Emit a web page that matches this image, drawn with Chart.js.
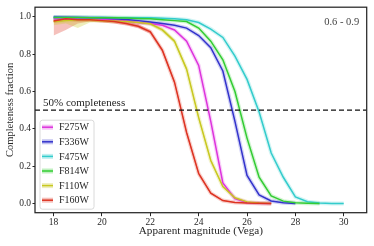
<!DOCTYPE html>
<html><head><meta charset="utf-8">
<script src="https://cdn.jsdelivr.net/npm/chart.js@4/dist/chart.umd.min.js"></script>
<style>html,body{margin:0;padding:0;background:#fff;}#wrap{width:374px;height:246px;}</style>
</head><body><div id="wrap"><canvas id="c" width="374" height="246"></canvas></div>
<script>
const mags = [18,18.5,19,19.5,20,20.5,21,21.5,22,22.5,23,23.5,24,24.5,25,25.5,26,26.5,27,27.5,28,28.5,29,29.5,30];
const filters = ['F275W','F336W','F475W','F814W','F110W','F160W'];
const F275W = [0.99,0.99,0.99,0.99,0.988,0.985,0.978,0.97,0.965,0.955,0.93,0.87,0.74,0.44,0.11,0.025,0.005,0.001,0];
const F336W = [1.0,0.998,0.997,0.995,0.994,0.99,0.986,0.98,0.972,0.965,0.955,0.94,0.9,0.835,0.71,0.44,0.15,0.045,0.013,0.003,0];
const F475W = [0.997,0.997,0.997,0.997,0.997,0.996,0.995,0.995,0.995,0.993,0.99,0.985,0.97,0.935,0.89,0.79,0.665,0.49,0.27,0.14,0.035,0.009,0.002,0.0,0];
const F814W = [0.997,0.997,0.997,0.996,0.996,0.995,0.994,0.992,0.99,0.985,0.98,0.975,0.94,0.87,0.77,0.60,0.35,0.14,0.04,0.012,0.003,0.001,0];
const F110W = [0.975,0.98,0.985,0.985,0.98,0.978,0.975,0.97,0.963,0.93,0.87,0.72,0.46,0.23,0.09,0.03,0.008,0.002,0];
const F160W = [0.978,0.99,0.985,0.985,0.98,0.975,0.965,0.95,0.92,0.82,0.65,0.38,0.16,0.055,0.015,0.005,0.002,0.001,0];
const F110W_lo = [0.955,0.965,0.94,0.97,0.972,0.97,0.968,0.963,0.955,0.92,0.86,0.71,0.45,0.22,0.085,0.027,0.006,0.001,0];
const F110W_hi = [0.985,0.99,0.99,0.99,0.987,0.985,0.982,0.977,0.97,0.94,0.88,0.73,0.47,0.24,0.095,0.033,0.01,0.003,0];
const F160W_lo = [0.90,0.93,0.965,0.975,0.97,0.965,0.955,0.94,0.91,0.81,0.64,0.37,0.15,0.05,0.012,0.003,0.001,0,0];
const F160W_hi = [0.99,0.995,0.995,0.99,0.99,0.985,0.975,0.96,0.93,0.83,0.66,0.39,0.17,0.06,0.018,0.007,0.003,0.001,0];
const xTicks = [18,20,22,24,26,28,30];
const yTicks = [0.0,0.2,0.4,0.6,0.8,1.0];
const xRange = [17.23, 30.95];
const yRange = [-0.05, 1.052];
const completenessLevel = 0.5;
const annotation = '0.6 - 0.9';

const colors = {F275W:'#dd33dd',F336W:'#3333cc',F475W:'#33cccc',F814W:'#33cc33',F110W:'#c8c820',F160W:'#dd3322'};
const series = {F275W,F336W,F475W,F814W,F110W,F160W};
const pts = arr => arr.map((v,i)=>({x:mags[i],y:v}));
function rgba(hex,a){const n=parseInt(hex.slice(1),16);return `rgba(${n>>16&255},${n>>8&255},${n&255},${a})`;}

const datasets = [];
// bands
[['F110W',F110W_lo,F110W_hi],['F160W',F160W_lo,F160W_hi]].forEach(([k,lo,hi])=>{
  datasets.push({data:pts(lo),borderWidth:0,pointRadius:0,fill:false,order:50});
  datasets.push({data:pts(hi),borderWidth:0,pointRadius:0,fill:'-1',backgroundColor:rgba(colors[k],0.3),order:50});
});
// glow underlays
filters.forEach(k=>{
  datasets.push({data:pts(series[k]),borderColor:rgba(colors[k],0.22),borderWidth:4,pointRadius:0,fill:false,order:40});
});
// lines
filters.forEach((k,i)=>{
  datasets.push({label:k,data:pts(series[k]),borderColor:colors[k],borderWidth:1.5,pointRadius:0,fill:false,order:10-i});
});
// 50% line
datasets.push({data:[{x:xRange[0],y:completenessLevel},{x:xRange[1],y:completenessLevel}],borderColor:'#111',borderWidth:1.4,borderDash:[5,3],pointRadius:0,fill:false,order:0});

const txt = '#262626';
const serif = "'Liberation Serif', 'Times New Roman', serif";

const overlay = {
  id:'overlay',
  afterDraw(chart){
    const {ctx,chartArea:a,scales:{x,y}} = chart;
    ctx.save();
    ctx.strokeStyle='#262626';ctx.lineWidth=1.25;
    ctx.strokeRect(a.left,a.top,a.right-a.left,a.bottom-a.top);
    ctx.fillStyle=txt;
    ctx.font=`11px ${serif}`;ctx.textAlign='left';ctx.textBaseline='alphabetic';
    ctx.fillText('50% completeness',a.left+8,y.getPixelForValue(completenessLevel)-4.5);
    ctx.fillStyle='#444';ctx.font=`10.5px ${serif}`;ctx.textAlign='right';ctx.textBaseline='middle';
    ctx.fillText(annotation,a.right-7.5,a.top+15);
    // legend
    const lx=a.left+5, ly=a.top+113, lw=54, lh=89;
    ctx.beginPath();
    if(ctx.roundRect) ctx.roundRect(lx,ly,lw,lh,2.5); else ctx.rect(lx,ly,lw,lh);
    ctx.fillStyle='rgba(255,255,255,0.85)';ctx.fill();
    ctx.strokeStyle='#d0d0d0';ctx.lineWidth=0.8;ctx.stroke();
    filters.forEach((k,i)=>{
      const cy=ly+7+i*14.6;
      ctx.fillStyle=rgba(colors[k],0.3);ctx.fillRect(lx+2,cy-2.5,11,5);
      ctx.strokeStyle=colors[k];ctx.lineWidth=1.5;ctx.beginPath();ctx.moveTo(lx+2,cy);ctx.lineTo(lx+13,cy);ctx.stroke();
      ctx.fillStyle=txt;ctx.font=`10px ${serif}`;ctx.textAlign='left';ctx.textBaseline='middle';
      ctx.fillText(k,lx+19,cy+0.5);
    });
    ctx.restore();
  }
};

new Chart(document.getElementById('c'),{
  type:'line',
  data:{datasets},
  plugins:[overlay],
  options:{
    responsive:false,animation:false,devicePixelRatio:1,
    layout:{padding:{top:6,right:7.3,left:0,bottom:0}},
    plugins:{legend:{display:false},tooltip:{enabled:false}},
    scales:{
      x:{type:'linear',min:xRange[0],max:xRange[1],
        afterBuildTicks:s=>{s.ticks=xTicks.map(v=>({value:v}));},
        afterFit:s=>{s.height=33.3;},
        grid:{drawOnChartArea:false,drawTicks:true,tickLength:3.5,color:'#262626',lineWidth:1},
        border:{display:false},
        ticks:{color:txt,font:{family:serif,size:9.5},padding:1,maxRotation:0,callback:v=>String(v)},
        title:{display:true,text:'Apparent magnitude (Vega)',color:txt,font:{family:serif,size:11.2},padding:{top:0,bottom:8}}
      },
      y:{type:'linear',min:yRange[0],max:yRange[1],
        afterBuildTicks:s=>{s.ticks=yTicks.map(v=>({value:v}));},
        afterFit:s=>{s.width=35;},
        grid:{drawOnChartArea:false,drawTicks:true,tickLength:2.5,color:'#262626',lineWidth:1},
        border:{display:false},
        ticks:{color:txt,font:{family:serif,size:9.5},padding:1.5,callback:v=>v.toFixed(1)},
        title:{display:true,text:'Completeness fraction',color:txt,font:{family:serif,size:10.5},padding:{top:3.5,bottom:0}}
      }
    }
  }
});
</script></body></html>
